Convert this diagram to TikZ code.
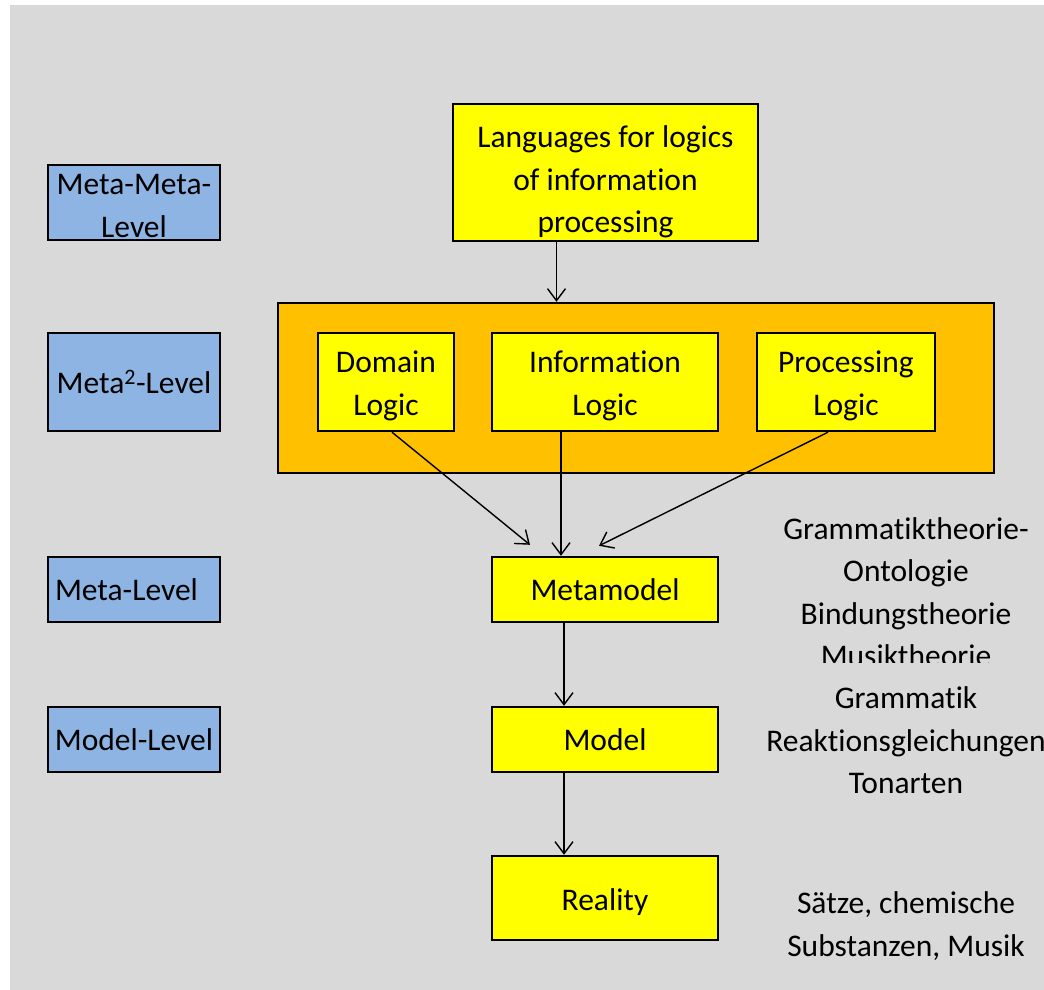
\documentclass[tikz,border=0pt]{standalone}
\usepackage{fontspec}
\setmainfont{Carlito}[Ligatures=NoCommon]
\usetikzlibrary{arrows.meta}
\definecolor{bggray}{HTML}{D9D9D9}
\definecolor{lvlblue}{HTML}{8EB4E3}
\definecolor{boxyellow}{HTML}{FFFF00}
\definecolor{boxorange}{HTML}{FFC000}
\begin{document}
\begin{tikzpicture}[x=1pt, y=-1pt,
  every node/.style={font=\fontsize{31.5}{42.5}\selectfont, inner sep=0pt, align=center},
  lvl/.style={draw, line width=2.4pt, fill=lvlblue, minimum width=172pt},
  ybox/.style={draw, line width=2.4pt, fill=boxyellow},
  arr/.style={line width=1.4pt, -{Straight Barb[length=12pt, width=18pt, line width=1.4pt]}}]
\useasboundingbox (0,0) rectangle (1044,990);
\fill[bggray] (10,5) rectangle (1044,990);
% level boxes
\node[lvl, minimum height=75pt, text height=70pt] (lvl0) at (134,202.5){Meta-Meta-\\Level};
\node[lvl, minimum height=98pt] (lvl1) at (134,382){Meta\textsuperscript{2}-Level};
\node[lvl, minimum height=65pt, text width=158pt, align=left] (lvl2) at (134,589.5){Meta-Level};
\node[lvl, minimum height=65pt] (lvl3) at (134,739.5){Model-Level};
% main column
\node[ybox, minimum width=305pt, minimum height=137pt, text height=126pt] (lang) at (605.5,172.5){Languages for logics\\of information\\processing};
\node[draw, line width=2.4pt, fill=boxorange, minimum width=716pt, minimum height=170pt] (logics) at (636,388){};
\node[ybox, minimum width=136pt, minimum height=98pt, text height=72pt] (dom) at (386,382){Domain\\Logic};
\node[ybox, minimum width=226pt, minimum height=98pt, text height=72pt] (info) at (605,382){Information\\Logic};
\node[ybox, minimum width=178pt, minimum height=98pt, text height=72pt] (proc) at (846,382){Processing\\Logic};
\node[ybox, minimum width=226pt, minimum height=65pt] (meta) at (605,589.5){Metamodel};
\node[ybox, minimum width=226pt, minimum height=65pt] (model) at (605,739.5){Model};
\node[ybox, minimum width=226pt, minimum height=84pt, text height=30pt] (real) at (605,898){Reality};
% examples
\begin{scope}
\clip (700,480) rectangle (1044,662);
\node (ex0) at (906,592){Grammatiktheorie-\\Ontologie\\Bindungstheorie\\Musiktheorie};
\end{scope}
\node (ex1) at (906,740.5){Grammatik\\Reaktionsgleichungen\\Tonarten};
\node (ex2) at (906,926){Sätze, chemische\\Substanzen, Musik};
% arrows
\draw[arr] ([xshift=-49pt]lang.south) -- ([xshift=-49pt]lang.south |- logics.north);
\draw[arr] ([xshift=6pt]dom.south) -- ([xshift=-75pt, yshift=11pt]meta.north);
\draw[arr] ([xshift=-44pt]info.south) -- ([xshift=-44pt]meta.north);
\draw[arr] ([xshift=-18pt]proc.south) -- ([xshift=-6pt, yshift=10pt]meta.north);
\draw[arr] ([xshift=-41pt]meta.south) -- ([xshift=-41pt]model.north);
\draw[arr] ([xshift=-41pt]model.south) -- ([xshift=-41pt]real.north);
\end{tikzpicture}
\end{document}
